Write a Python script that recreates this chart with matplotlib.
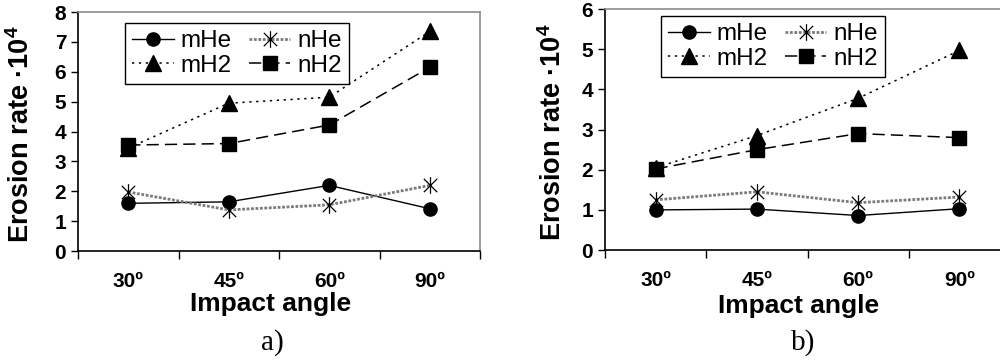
import matplotlib
matplotlib.use('Agg')
import matplotlib.pyplot as plt
from matplotlib.path import Path

plt.rcParams['font.family'] = ['Liberation Sans', 'DejaVu Sans']
plt.rcParams['mathtext.fontset'] = 'custom'
plt.rcParams['mathtext.rm'] = 'Liberation Sans'
plt.rcParams['mathtext.bf'] = 'Liberation Sans:bold'

angles = ['30º', '45º', '60º', '90º']

# panel a)
a_mHe = [1.6, 1.65, 2.2, 1.42]
a_nHe = [1.98, 1.38, 1.55, 2.2]
a_mH2 = [3.45, 4.95, 5.15, 7.35]
a_nH2 = [3.55, 3.6, 4.22, 6.15]

# panel b)
b_mHe = [1.0, 1.02, 0.86, 1.03]
b_nHe = [1.25, 1.45, 1.18, 1.32]
b_mH2 = [2.05, 2.85, 3.78, 4.97]
b_nH2 = [2.02, 2.5, 2.9, 2.8]

# asterisk marker like the old excel one: an X with a vertical bar
star = Path([(0, -1), (0, 1), (-0.8, -0.8), (0.8, 0.8), (-0.8, 0.8), (0.8, -0.8)],
            [Path.MOVETO, Path.LINETO, Path.MOVETO, Path.LINETO, Path.MOVETO, Path.LINETO])


def draw_panel(ax, mHe, nHe, mH2, nH2, ymax, ylab_x, xlab_xy, leg_anchor):
    x = range(len(angles))
    h1, = ax.plot(x, mHe, color='black', lw=1, marker='o', ms=9.5, label='mHe')
    h2, = ax.plot(x, nHe, color='#7a7a7a', lw=2, ls=(0, (1, 0.6)), marker=star, ms=12,
                  mec='black', mew=0.9, label='nHe')
    h3, = ax.plot(x, mH2, color='black', lw=1.1, ls=(0, (1.5, 3)), marker='^', ms=11, label='mH2')
    h4, = ax.plot(x, nH2, color='black', lw=1.1, ls=(0, (8, 4)), marker='s', ms=9.5, label='nH2')

    ax.set_xlim(-0.5, 3.5)
    ax.set_ylim(0, ymax)
    ax.set_yticks(range(ymax + 1))
    ax.set_xticks([-0.5, 0.5, 1.5, 2.5, 3.5])
    ax.set_xticklabels([])
    ax.set_xticks(list(x), minor=True)
    ax.set_xticklabels(angles, minor=True)
    ax.tick_params(axis='x', which='major', direction='out', length=6, width=1)
    ax.tick_params(axis='x', which='minor', length=0, pad=15, labelsize=15)
    ax.tick_params(axis='y', direction='out', length=5, width=1, labelsize=15)
    for lab in ax.get_xticklabels(minor=True) + ax.get_yticklabels():
        lab.set_fontweight('bold')

    ax.spines['left'].set_color('black')
    ax.spines['bottom'].set_color('black')
    ax.spines['top'].set_color('#8c8c8c')
    ax.spines['right'].set_color('#8c8c8c')
    for s in ax.spines.values():
        s.set_linewidth(1.2)

    ax.set_ylabel('Erosion rate ·10$^{\\mathbf{4}}$', fontsize=19.5, fontweight='bold')
    ax.yaxis.set_label_coords(ylab_x, 0.49)
    ax.set_xlabel('Impact angle', fontsize=19, fontweight='bold')
    ax.xaxis.set_label_coords(*xlab_xy)

    leg = ax.legend([h1, h3, h2, h4], ['mHe', 'mH2', 'nHe', 'nH2'], ncol=2,
                    loc='upper left', bbox_to_anchor=leg_anchor, fontsize=17.5,
                    frameon=True, fancybox=False, edgecolor='black', framealpha=1,
                    handlelength=1.7, handletextpad=0.3, columnspacing=0.7,
                    labelspacing=0.1, borderpad=0.3, borderaxespad=0)
    leg.get_frame().set_linewidth(1)


fig = plt.figure(figsize=(10, 3.64), dpi=100)
ax1 = fig.add_axes([0.078, 0.310, 0.402, 0.657])
ax2 = fig.add_axes([0.605, 0.313, 0.405, 0.662])

draw_panel(ax1, a_mHe, a_nHe, a_mH2, a_nH2, 8, -0.107, (0.48, -0.17), (0.117, 0.954))
draw_panel(ax2, b_mHe, b_nHe, b_mH2, b_nH2, 6, -0.094, (0.477, -0.183), (0.138, 0.971))

fig.text(0.272, 1 - 343 / 364, 'a)', fontsize=21, family='Liberation Serif', ha='center', va='center')
fig.text(0.803, 1 - 343 / 364, 'b)', fontsize=21, family='Liberation Serif', ha='center', va='center')

fig.savefig('out.png', dpi=100)
